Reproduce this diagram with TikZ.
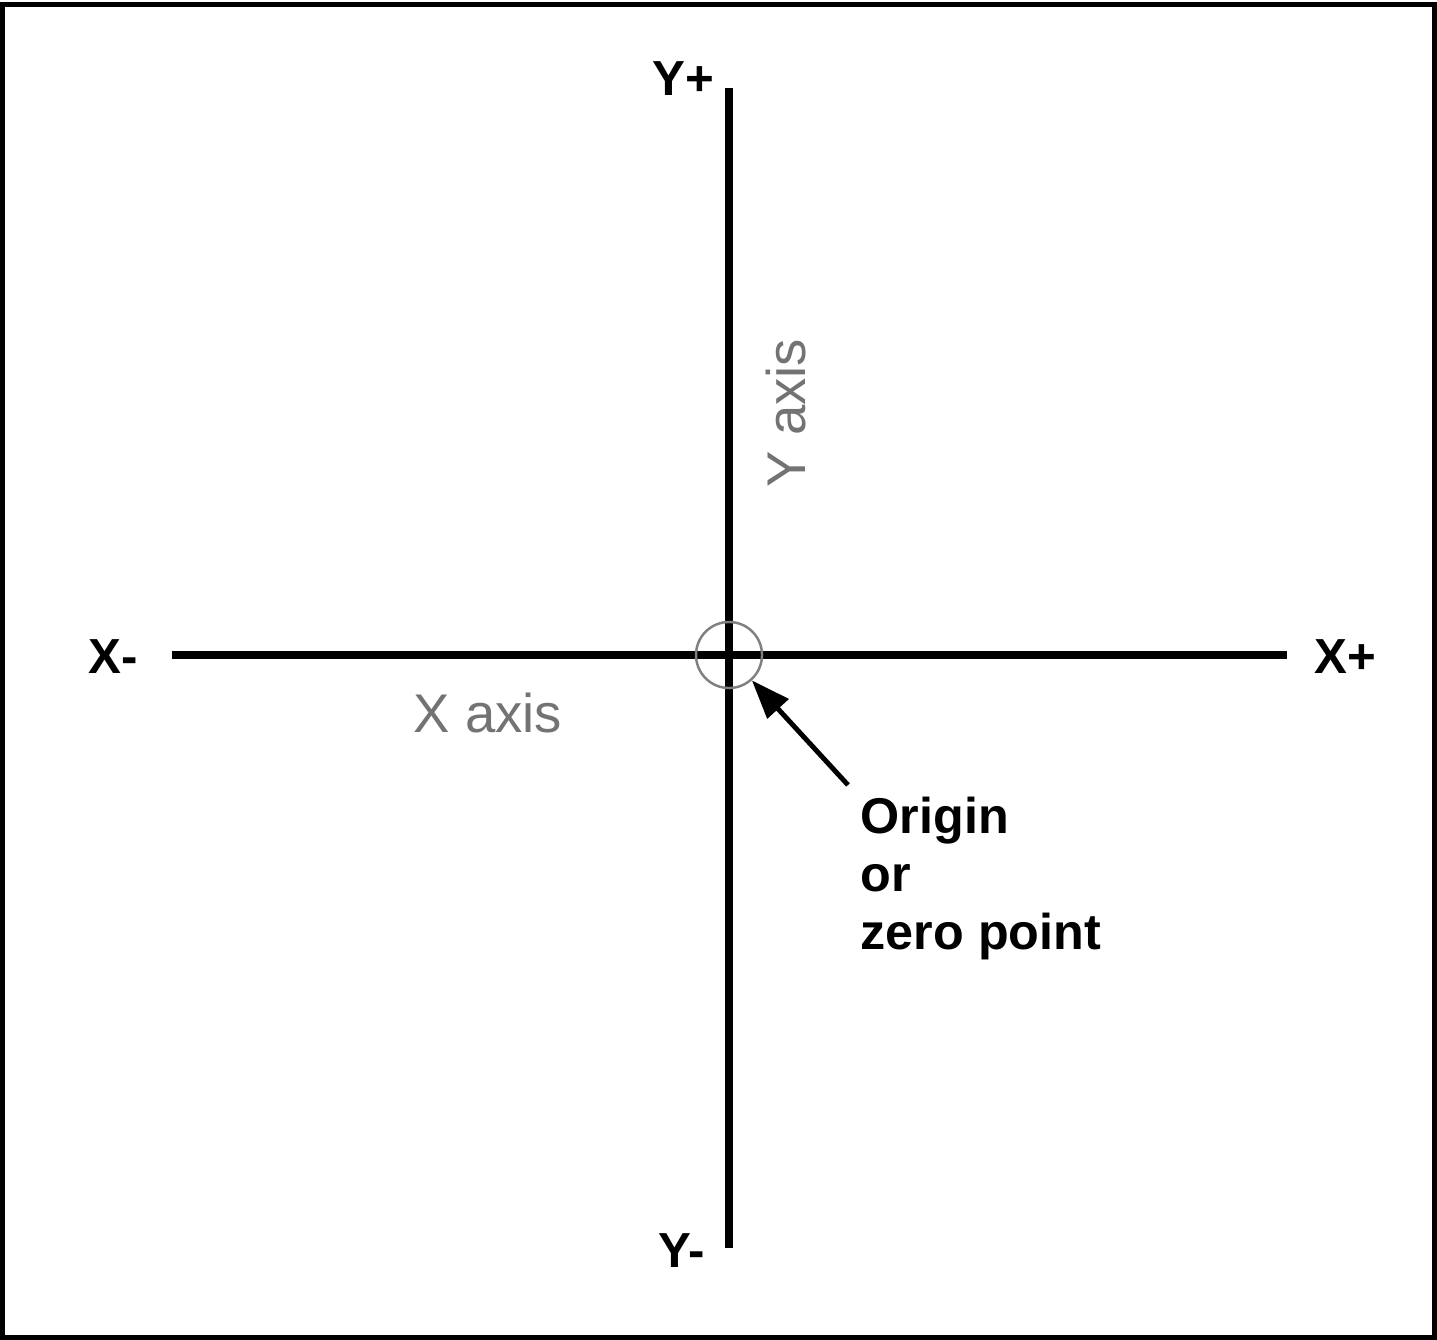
\documentclass[tikz,border=0pt]{standalone}
\usepackage{fontspec}
\setmainfont{Liberation Sans}
\usetikzlibrary{arrows.meta}
\begin{document}
\begin{tikzpicture}[x=0.01cm,y=-0.01cm,
  axis/.style={line width=2.3pt,black},
  bold label/.style={font=\fontsize{14}{16.5}\selectfont\bfseries,inner sep=0pt},
  gray label/.style={font=\fontsize{15.5}{18}\selectfont,text=black!55,inner sep=0pt},
  pointer/.style={line width=1.4pt,-{Triangle[length=11pt,width=8pt]}}]
\useasboundingbox (0,0) rectangle (1437,1340);
\draw[line width=1.45pt] (2.5,4.5) rectangle (1434.5,1337.5);
% axes
\coordinate (xl) at (172,655);
\coordinate (xr) at (1287,655);
\coordinate (yt) at (729,88);
\coordinate (yb) at (729,1248);
\draw[axis] (xl) -- (xr);
\draw[axis] (yt) -- (yb);
% origin circle
\node[circle,draw=black!50,line width=0.7pt,inner sep=0pt,minimum size=0.66cm] (origin) at (729,655) {};
% labels
\node[bold label] (yplus) at (683,79) {Y+};
\node[bold label] (yminus) at (682,1251) {Y-};
\node[bold label] (xminus) at (113,657) {X-};
\node[bold label] (xplus) at (1345,657) {X+};
\node[gray label,rotate=90] (yaxis) at (786,413) {Y axis};
\node[gray label] (xaxis) at (488,713) {X axis};
\node[align=left,anchor=north west,inner sep=0pt,font=\fontsize{14.3}{16.6}\selectfont\bfseries] (olabel) at (860,796) {Origin\\or\\zero point};
\coordinate (astart) at (848,785);
\draw[pointer] (astart) -- (origin.-48);
\end{tikzpicture}
\end{document}
